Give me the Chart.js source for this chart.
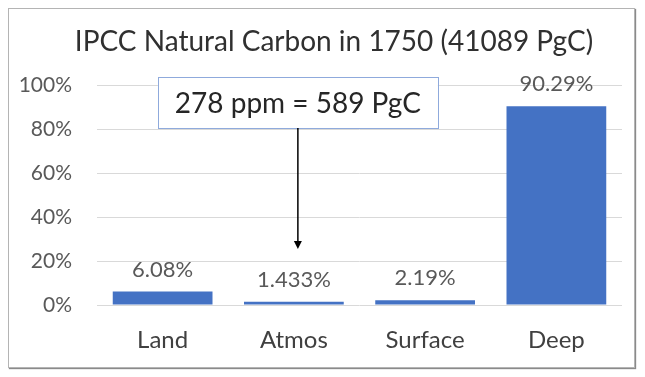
<!DOCTYPE html>
<html>
<head>
<meta charset="utf-8">
<script src="https://cdn.jsdelivr.net/npm/chart.js@4"></script>
<style>
    html, body { margin: 0; padding: 0; background: #fff; }
    .frame {
        position: absolute; left: 8px; top: 8px;
        width: 625px; height: 358px;
        border: 1px solid #b4b4b4;
        box-shadow: 1px 1px 1px #8a8a8a;
    }
    .frame canvas { display: block; }
</style>
</head>
<body>
<div class="frame"><canvas id="carbonChart" width="625" height="358"></canvas></div>
<script>
// Data
const categories = ['Land', 'Atmos', 'Surface', 'Deep'];
const shares = [6.08, 1.433, 2.19, 90.29];
const shareLabels = ['6.08%', '1.433%', '2.19%', '90.29%'];
const yTickValues = [0, 20, 40, 60, 80, 100];
const chartTitle = 'IPCC Natural Carbon in 1750 (41089 PgC)';
const calloutText = '278 ppm = 589 PgC';
const calloutIndex = 1;          // points to Atmos
const calloutBox = [80.5, 103.5]; // box bottom/top in % units
const calloutArrowTip = 25.5;

const FONT = 'Lato, "Open Sans", sans-serif';

// title drawn by hand so it can sit off-centre like the original
const titlePlugin = {
    id: 'titleText',
    afterDraw(chart) {
        const ctx = chart.ctx;
        ctx.save();
        ctx.font = `28px ${FONT}`;
        ctx.fillStyle = '#303030';
        ctx.textAlign = 'center';
        ctx.textBaseline = 'middle';
        ctx.fillText(chartTitle, 325, 33);
        ctx.restore();
    }
};

// value labels above each bar
const barLabels = {
    id: 'barLabels',
    afterDatasetsDraw(chart) {
        const ctx = chart.ctx;
        const meta = chart.getDatasetMeta(0);
        ctx.save();
        ctx.font = `22px ${FONT}`;
        ctx.fillStyle = '#595959';
        ctx.textAlign = 'center';
        ctx.textBaseline = 'middle';
        meta.data.forEach((bar, i) => {
            ctx.fillText(shareLabels[i], bar.x, bar.y - 22);
        });
        ctx.restore();
    }
};

// text box with arrow pointing down at the Atmos bar
const callout = {
    id: 'callout',
    afterDraw(chart) {
        const ctx = chart.ctx;
        const x = chart.scales.x.getPixelForValue(calloutIndex) + 4;
        const y = chart.scales.y;
        const top = y.getPixelForValue(calloutBox[1]);
        const bottom = y.getPixelForValue(calloutBox[0]);
        const tip = y.getPixelForValue(calloutArrowTip);
        const w = 280;

        ctx.save();
        ctx.fillStyle = '#ffffff';
        ctx.fillRect(x - w / 2, top, w, bottom - top);
        ctx.strokeStyle = '#8faadc';
        ctx.lineWidth = 1;
        ctx.strokeRect(Math.round(x - w / 2) + 0.5, Math.round(top) + 0.5, w, Math.round(bottom - top));

        ctx.font = `28px ${FONT}`;
        ctx.fillStyle = '#262626';
        ctx.textAlign = 'center';
        ctx.textBaseline = 'middle';
        ctx.fillText(calloutText, x, (top + bottom) / 2 + 1);

        // arrow
        ctx.strokeStyle = '#000000';
        ctx.lineWidth = 1.5;
        ctx.beginPath();
        ctx.moveTo(x, bottom);
        ctx.lineTo(x, tip - 6);
        ctx.stroke();
        ctx.fillStyle = '#000000';
        ctx.beginPath();
        ctx.moveTo(x - 4, tip - 8);
        ctx.lineTo(x + 4, tip - 8);
        ctx.lineTo(x, tip);
        ctx.closePath();
        ctx.fill();
        ctx.restore();
    }
};

const ctx = document.getElementById('carbonChart').getContext('2d');
new Chart(ctx, {
    type: 'bar',
    data: {
        labels: categories,
        datasets: [{
            data: shares,
            backgroundColor: '#4472c4',
            categoryPercentage: 1,
            barPercentage: 0.76
        }]
    },
    options: {
        responsive: false,
        animation: false,
        layout: { padding: { top: 76, right: 12, left: 0, bottom: 0 } },
        plugins: {
            legend: { display: false },
            title: { display: false },
            tooltip: { enabled: false }
        },
        scales: {
            x: {
                grid: { display: false, drawTicks: false },
                border: { display: false },
                ticks: { color: '#404040', font: { family: FONT, size: 24 }, padding: 21 },
                afterFit: s => { s.height = 62; }
            },
            y: {
                min: 0, max: 100,
                afterBuildTicks: s => { s.ticks = yTickValues.map(v => ({ value: v })); },
                grid: { color: '#d9d9d9', drawTicks: false },
                border: { display: false },
                ticks: {
                    color: '#595959', padding: 25,
                    font: { family: FONT, size: 21 },
                    callback: v => v + '%'
                },
                afterFit: s => { s.width = 88; }
            }
        }
    },
    plugins: [titlePlugin, barLabels, callout]
});
</script>
</body>
</html>
